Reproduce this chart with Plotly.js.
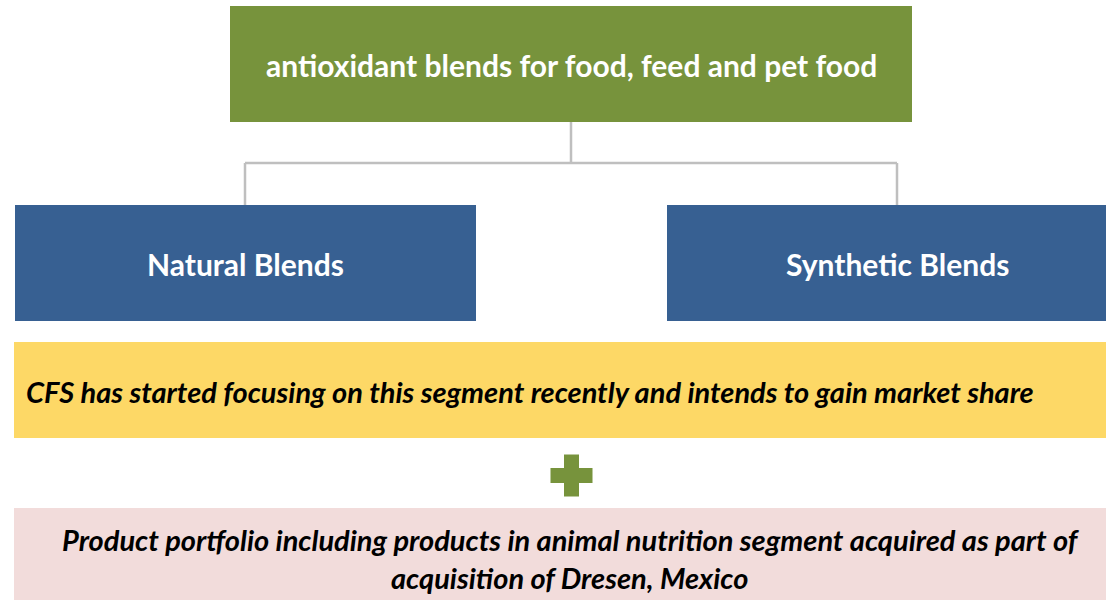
<!DOCTYPE html>
<html>
<head>
<meta charset="utf-8">
<script src="https://cdn.plot.ly/plotly-3.0.1.min.js"></script>
<style>html,body{margin:0;padding:0;background:#fff;}#chart{width:1106px;height:600px;}</style>
</head>
<body>
<div id="chart"></div>
<script>
// Diagram content
const rootLabel = ["antioxidant blends for food, feed and pet food"];
const branchLabels = ["Natural Blends", "Synthetic Blends"];
const noteLabels = [
  "CFS has started focusing on this segment recently and intends to gain market share",
  "Product portfolio including products in animal nutrition segment acquired as part of<br>acquisition of Dresen, Mexico"
];

// Layout geometry (pixel space)
const geo = {
  root: {x0: 230, x1: 912, y0: 6, y1: 122},
  branches: [{x0: 15, x1: 476, y0: 205, y1: 321}, {x0: 667, x1: 1106, y0: 205, y1: 321}],
  branchCx: [245, 897],
  busY: 163,
  notes: [{x0: 14, x1: 1106, y0: 342, y1: 438}, {x0: 14, x1: 1106, y0: 508, y1: 600}],
  plus: {cx: 571.5, cy: 475.5, half: 21, arm: 7.5}
};
const colors = {root: "#77933c", branch: "#376092", notes: ["#fdd866", "#f2dcdb"], line: "#bfbfbf", plus: "#77933c"};

const shapes = [];
const annotations = [];
function rect(b, fill) {
  shapes.push({type: "rect", xref: "x", yref: "y", x0: b.x0, x1: b.x1, y0: b.y0, y1: b.y1,
    fillcolor: fill, line: {width: 0}, layer: "below"});
}
function line(x0, y0, x1, y1) {
  shapes.push({type: "line", xref: "x", yref: "y", x0, y0, x1, y1, line: {color: colors.line, width: 2.5}});
}
rect(geo.root, colors.root);
geo.branches.forEach(b => rect(b, colors.branch));
geo.notes.forEach((b, i) => rect(b, colors.notes[i]));

// connectors
const rootCx = (geo.root.x0 + geo.root.x1) / 2;
line(rootCx, geo.root.y1, rootCx, geo.busY);
const bCx = geo.branchCx;
line(bCx[0], geo.busY, bCx[1], geo.busY);
bCx.forEach((cx, i) => line(cx, geo.busY, cx, geo.branches[i].y0));

// plus sign
const p = geo.plus;
rect({x0: p.cx - p.half, x1: p.cx + p.half, y0: p.cy - p.arm, y1: p.cy + p.arm}, colors.plus);
rect({x0: p.cx - p.arm, x1: p.cx + p.arm, y0: p.cy - p.half, y1: p.cy + p.half}, colors.plus);

const boldFont = {family: "Lato, 'Open Sans', sans-serif", size: 30, color: "#ffffff", weight: 700};
annotations.push({x: 571, y: 65, xref: "x", yref: "y", text: "<b>" + rootLabel[0] + "</b>", showarrow: false,
  font: boldFont, xanchor: "center", yanchor: "middle"});
branchLabels.forEach((t, i) => annotations.push({x: bCx[i], y: 264, xref: "x", yref: "y", text: "<b>" + t + "</b>",
  showarrow: false, font: boldFont, xanchor: "center", yanchor: "middle"}));

const italFont = {family: "Lato, 'Open Sans', sans-serif", size: 29, color: "#000000"};
annotations.push({x: 24, y: 391, xref: "x", yref: "y", text: "<b><i>" + noteLabels[0] + "</i></b>", showarrow: false,
  font: italFont, xanchor: "left", yanchor: "middle"});
annotations.push({x: 571, y: 558, xref: "x", yref: "y", text: "<b><i>" + noteLabels[1].replace("<br>", "</i></b><br><b><i>") + "</i></b>",
  showarrow: false, font: italFont, xanchor: "center", yanchor: "middle", align: "center"});

const layout = {
  width: 1106, height: 600,
  margin: {l: 0, r: 0, t: 0, b: 0},
  paper_bgcolor: "#ffffff", plot_bgcolor: "#ffffff",
  xaxis: {range: [0, 1106], visible: false, fixedrange: true},
  yaxis: {range: [600, 0], visible: false, fixedrange: true},
  shapes, annotations, showlegend: false
};
Plotly.newPlot("chart", [], layout, {staticPlot: true});
</script>
</body>
</html>
